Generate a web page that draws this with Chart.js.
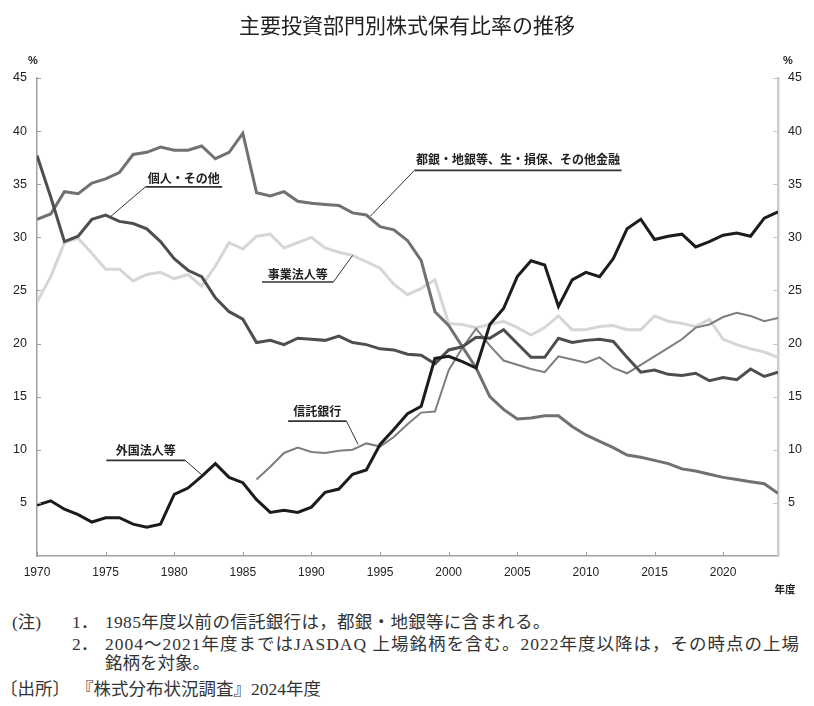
<!DOCTYPE html>
<html lang="ja">
<head>
<meta charset="utf-8">
<title>主要投資部門別株式保有比率の推移</title>
<script src="https://cdn.jsdelivr.net/npm/chart.js@4.4.1/dist/chart.umd.min.js"></script>
<style>
  body { margin: 0; background: #fff; width: 814px; height: 706px; position: relative; overflow: hidden; font-family: "Noto Sans CJK JP", sans-serif; color: #222; }
  #wrap { position: absolute; left: 0; top: 0; width: 814px; height: 600px; }
  .title { position: absolute; left: 0; top: 10px; width: 814px; text-align: center; font-size: 21px; line-height: 28px; }
  .note { position: absolute; font-family: "Liberation Serif", "Noto Sans CJK JP", serif; font-size: 17.5px; line-height: 20px; white-space: nowrap; color: #333; }
</style>
</head>
<body>
<div id="wrap"><canvas id="chart" width="814" height="600"></canvas></div>
<div class="title">主要投資部門別株式保有比率の推移</div>

<div class="note" style="left:12px;top:612px">(注)</div>
<div class="note" style="left:72px;top:612px">1．</div>
<div class="note" style="left:105px;top:612px;letter-spacing:0.3px">1985年度以前の信託銀行は，都銀・地銀等に含まれる。</div>
<div class="note" style="left:72px;top:634px">2．</div>
<div class="note" style="left:105px;top:634px;letter-spacing:1px">2004～2021年度まではJASDAQ 上場銘柄を含む。2022年度以降は，その時点の上場</div>
<div class="note" style="left:105px;top:653px">銘柄を対象。</div>
<div class="note" style="left:0px;top:679px">〔出所〕</div>
<div class="note" style="left:76px;top:679px">『株式分布状況調査』2024年度</div>

<script>
//DATA
const years = [
  1970, 1971, 1972, 1973, 1974, 1975, 1976, 1977, 1978, 1979,
  1980, 1981, 1982, 1983, 1984, 1985, 1986, 1987, 1988, 1989,
  1990, 1991, 1992, 1993, 1994, 1995, 1996, 1997, 1998, 1999,
  2000, 2001, 2002, 2003, 2004, 2005, 2006, 2007, 2008, 2009,
  2010, 2011, 2012, 2013, 2014, 2015, 2016, 2017, 2018, 2019,
  2020, 2021, 2022, 2023, 2024,
];

// 外国法人等
const foreign = [
  4.8, 5.2, 4.4, 3.9, 3.2, 3.6, 3.6, 3.0, 2.7, 3.0,
  5.8, 6.4, 7.5, 8.7, 7.4, 6.9, 5.3, 4.1, 4.3, 4.1,
  4.6, 6.0, 6.3, 7.7, 8.1, 10.5, 11.9, 13.4, 14.1, 18.6,
  18.8, 18.3, 17.7, 21.8, 23.3, 26.3, 27.8, 27.4, 23.5, 26.0,
  26.7, 26.3, 28.0, 30.8, 31.7, 29.8, 30.1, 30.3, 29.1, 29.6,
  30.2, 30.4, 30.1, 31.8, 32.4,
];

// 個人・その他
const individuals = [
  37.7, 33.8, 29.6, 30.1, 31.7, 32.1, 31.5, 31.3, 30.8, 29.6,
  28.0, 26.9, 26.3, 24.3, 23.0, 22.3, 20.1, 20.3, 19.9, 20.5,
  20.4, 20.3, 20.7, 20.1, 19.9, 19.5, 19.4, 19.0, 18.9, 18.1,
  19.4, 19.7, 20.6, 20.5, 21.3, 20.0, 18.7, 18.7, 20.5, 20.1,
  20.3, 20.4, 20.2, 18.7, 17.3, 17.5, 17.1, 17.0, 17.2, 16.5,
  16.8, 16.6, 17.6, 16.9, 17.3,
];

// 都銀・地銀等、生・損保、その他金融
const financial = [
  31.7, 32.2, 34.3, 34.1, 35.1, 35.5, 36.1, 37.8, 38.0, 38.5,
  38.2, 38.2, 38.6, 37.4, 38.0, 39.8, 34.2, 33.9, 34.3, 33.4,
  33.2, 33.1, 33.0, 32.3, 32.1, 31.0, 30.7, 29.7, 27.8, 23.0,
  21.7, 19.7, 17.7, 15.0, 13.8, 12.9, 13.0, 13.2, 13.2, 12.2,
  11.4, 10.8, 10.2, 9.5, 9.3, 9.0, 8.7, 8.2, 8.0, 7.7,
  7.4, 7.2, 7.0, 6.8, 5.9,
];

// 信託銀行 (1985年度以前は都銀・地銀等に含まれる)
const trust = [
  null, null, null, null, null, null, null, null, null, null,
  null, null, null, null, null, null, 7.2, 8.4, 9.7, 10.2,
  9.8, 9.7, 9.9, 10.0, 10.6, 10.3, 11.2, 12.4, 13.5, 13.6,
  17.5, 19.6, 21.4, 19.8, 18.4, 18.0, 17.6, 17.3, 18.8, 18.5,
  18.2, 18.7, 17.7, 17.2, 18.0, 18.8, 19.6, 20.4, 21.5, 21.8,
  22.5, 22.9, 22.6, 22.1, 22.4,
];

// 事業法人等
const corporations = [
  23.9, 26.3, 29.5, 29.9, 28.5, 27.0, 27.0, 25.9, 26.5, 26.7,
  26.1, 26.5, 25.4, 27.3, 29.5, 28.9, 30.1, 30.3, 29.0, 29.5,
  30.0, 29.0, 28.6, 28.3, 27.7, 27.1, 25.6, 24.6, 25.2, 26.0,
  21.9, 21.8, 21.5, 21.8, 22.1, 21.5, 20.8, 21.5, 22.6, 21.3,
  21.3, 21.6, 21.7, 21.3, 21.3, 22.6, 22.1, 21.9, 21.6, 22.3,
  20.4, 19.9, 19.5, 19.2, 18.7,
];

const yTicks = [5, 10, 15, 20, 25, 30, 35, 40, 45];

// labels with leader lines: underline from x1 to x2 at y, leader from one end to (toX, toY)
const callouts = [
  { text: "個人・その他", x1: 1977.9, x2: 1983.5, y: 34.75, from: "left", toX: 1975.4, toY: 32.0, gap: 8 },
  { text: "事業法人等", x1: 1986.4, x2: 1991.6, y: 25.8, from: "right", toX: 1993.0, toY: 28.3, gap: 8 },
  { text: "都銀・地銀等、生・損保、その他金融", x1: 1997.5, x2: 2012.6, y: 36.3, from: "left", toX: 1994.3, toY: 32.0, gap: 11 },
  { text: "信託銀行", x1: 1988.3, x2: 1992.55, y: 12.7, from: "right", toX: 1993.4, toY: 10.5, gap: 10 },
  { text: "外国法人等", x1: 1975.05, x2: 1980.8, y: 9.0, from: "right", toX: 1982.0, toY: 7.65, gap: 10 },
];

function toPoints(arr) {
  return years.map((yr, i) => ({ x: yr, y: arr[i] }));
}

//PLUGIN: inward tick marks, unit labels, callouts
const extras = {
  id: "extras",
  afterDatasetsDraw(chart) {
    const { ctx, chartArea } = chart;
    const xs = chart.scales.x;
    const ys = chart.scales.y;
    ctx.save();

    // tick marks pointing into the plot
    ctx.strokeStyle = "#a0a0a0";
    ctx.lineWidth = 1;
    ctx.beginPath();
    xs.ticks.forEach((t) => {
      const px = Math.round(xs.getPixelForValue(t.value)) + 0.5;
      ctx.moveTo(px, chartArea.bottom);
      ctx.lineTo(px, chartArea.bottom - 4);
    });
    yTicks.forEach((v) => {
      const py = Math.round(ys.getPixelForValue(v)) + 0.5;
      ctx.moveTo(chartArea.left, py);
      ctx.lineTo(chartArea.left + 4, py);
    });
    ctx.stroke();
    ctx.strokeStyle = "#c8c8c8";
    ctx.beginPath();
    yTicks.forEach((v) => {
      const py = Math.round(ys.getPixelForValue(v)) + 0.5;
      ctx.moveTo(chartArea.right, py);
      ctx.lineTo(chartArea.right - 5, py);
    });
    ctx.stroke();

    // units
    ctx.fillStyle = "#222";
    ctx.font = "bold 11px 'Liberation Sans', Arial, sans-serif";
    ctx.textAlign = "center";
    ctx.textBaseline = "middle";
    ctx.fillText("%", 33, 61);
    ctx.fillText("%", 788, 61);
    ctx.font = "bold 10.5px 'Noto Sans CJK JP', sans-serif";
    ctx.fillText("年度", 785, 589);

    // callouts
    ctx.font = "bold 12px 'Noto Sans CJK JP', sans-serif";
    callouts.forEach((c) => {
      const x1 = xs.getPixelForValue(c.x1);
      const x2 = xs.getPixelForValue(c.x2);
      const y = ys.getPixelForValue(c.y);
      const ex = xs.getPixelForValue(c.toX);
      const ey = ys.getPixelForValue(c.toY);
      const sx = c.from === "left" ? x1 : x2;

      ctx.strokeStyle = "#333";
      ctx.lineWidth = 1.6;
      ctx.beginPath();
      ctx.moveTo(x1, y);
      ctx.lineTo(x2, y);
      ctx.stroke();

      ctx.lineWidth = 1;
      ctx.beginPath();
      ctx.moveTo(sx, y);
      ctx.lineTo(ex, ey);
      ctx.stroke();

      ctx.fillStyle = "#222";
      ctx.textAlign = "center";
      ctx.textBaseline = "middle";
      ctx.fillText(c.text, (x1 + x2) / 2, y - c.gap);
    });

    ctx.restore();
  },
};

const tickFont = { family: "'Liberation Sans', Arial, sans-serif", size: 12.5 };

const chart = new Chart(document.getElementById("chart").getContext("2d"), {
  type: "line",
  data: {
    datasets: [
      { label: "外国法人等", data: toPoints(foreign), borderColor: "#1c1c1c", borderWidth: 3 },
      { label: "個人・その他", data: toPoints(individuals), borderColor: "#4e4e4e", borderWidth: 3 },
      { label: "都銀・地銀等、生・損保、その他金融", data: toPoints(financial), borderColor: "#717171", borderWidth: 3 },
      { label: "信託銀行", data: toPoints(trust), borderColor: "#7e7e7e", borderWidth: 2 },
      { label: "事業法人等", data: toPoints(corporations), borderColor: "#d6d6d6", borderWidth: 3 },
    ],
  },
  options: {
    responsive: false,
    animation: false,
    layout: { padding: { top: 78, bottom: 0, left: 0, right: 0 } },
    elements: {
      point: { radius: 0, hoverRadius: 0 },
      line: { tension: 0, fill: false },
    },
    plugins: {
      legend: { display: false },
      tooltip: { enabled: false },
    },
    scales: {
      x: {
        type: "linear",
        min: 1970,
        max: 2024,
        grid: { display: false, drawTicks: false },
        border: { display: true, color: "#a0a0a0", width: 1.5 },
        ticks: { stepSize: 5, includeBounds: false, padding: 9, color: "#222", font: { ...tickFont, size: 12 }, callback: (v) => String(v) },
        afterFit: (s) => { s.height = 44; },
      },
      y: {
        position: "left",
        min: 0,
        max: 45,
        grid: { display: false, drawTicks: false },
        border: { display: true, color: "#a0a0a0", width: 1.5 },
        ticks: { stepSize: 5, padding: 10, color: "#222", font: tickFont, callback: (v) => (v === 0 ? "" : v) },
        afterFit: (s) => { s.width = 37; },
      },
      y2: {
        position: "right",
        min: 0,
        max: 45,
        grid: { display: false, drawTicks: false },
        border: { display: true, color: "#cdcdcd", width: 2.5 },
        ticks: { stepSize: 5, padding: 10, color: "#222", font: tickFont, callback: (v) => (v === 0 ? "" : v) },
        afterFit: (s) => { s.width = 36; },
      },
    },
  },
  plugins: [extras],
});
</script>
</body>
</html>
